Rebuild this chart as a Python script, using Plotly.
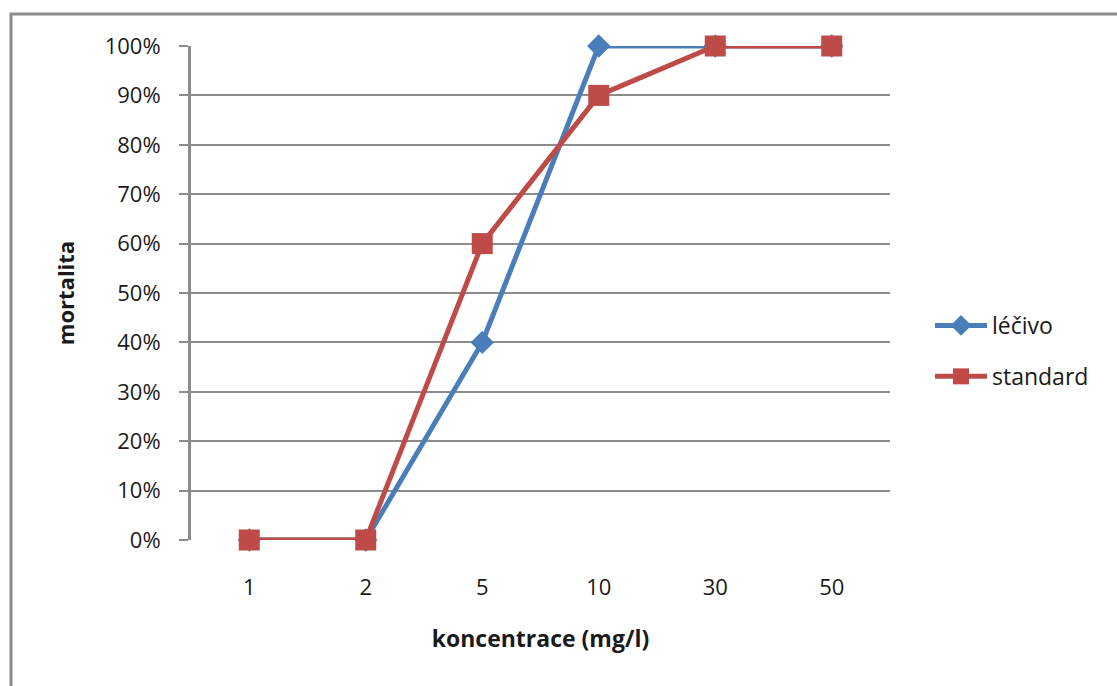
import plotly.graph_objects as go

categories = ["1", "2", "5", "10", "30", "50"]
lecivo = [0.0, 0.0, 0.4, 1.0, 1.0, 1.0]
standard = [0.0, 0.0, 0.6, 0.9, 1.0, 1.0]
y_ticks = [i / 10 for i in range(11)]
y_labels = [f"{i*10}%" for i in range(11)]

W, H = 1117, 686
L, R, T, B = 191, 227, 46, 146
FONT = "Open Sans"

fig = go.Figure()
fig.add_trace(go.Scatter(
    x=categories, y=lecivo, name="léčivo", mode="lines+markers",
    line=dict(color="#4A7EBB", width=5),
    marker=dict(symbol="diamond", size=18, color="#4A7EBB"),
    legendgroup="a", cliponaxis=False,
))
fig.add_trace(go.Scatter(
    x=categories, y=standard, name="standard", mode="lines+markers",
    line=dict(color="#BE4B48", width=5),
    marker=dict(symbol="square", size=21, color="#BE4B48"),
    legendgroup="b", cliponaxis=False,
))

pw = W - L - R
ph = H - T - B
fig.add_shape(type="rect", xref="paper", yref="paper",
              x0=(11 - L) / pw, x1=(W + 50 - L) / pw,
              y0=(H - B - (H + 50)) / ph, y1=(H - B - 14) / ph,
              line=dict(color="#8C8C8C", width=3), fillcolor="rgba(0,0,0,0)",
              layer="below")

fig.update_layout(
    width=W, height=H,
    margin=dict(l=L, r=R, t=T, b=B, pad=0),
    paper_bgcolor="white", plot_bgcolor="white",
    font=dict(family=FONT, size=22, color="#1a1a1a"),
    showlegend=True,
    legend=dict(x=(930 - L) / pw, y=(H - B - 304) / ph, xanchor="left", yanchor="top",
                font=dict(family=FONT, size=23, color="#1a1a1a"),
                tracegroupgap=18, itemwidth=52, bgcolor="rgba(0,0,0,0)"),
    xaxis=dict(
        type="category", range=[-0.5, 5.5],
        showgrid=False, zeroline=False,
        showline=False, ticks="",
        ticklabelstandoff=32,
        tickfont=dict(family=FONT, size=22),
        title=dict(text="<b>koncentrace (mg/l)</b>", font=dict(family=FONT, size=23), standoff=30),
    ),
    yaxis=dict(
        range=[0, 1], tickvals=y_ticks, ticktext=y_labels,
        showgrid=True, gridcolor="#8C8C8C", gridwidth=2,
        zeroline=False,
        showline=True, linecolor="#8C8C8C", linewidth=3,
        ticks="outside", ticklen=9, tickcolor="#8C8C8C", tickwidth=2,
        ticklabelstandoff=14,
        tickfont=dict(family=FONT, size=22),
        title=dict(text="<b>mortalita</b>", font=dict(family=FONT, size=22), standoff=24),
    ),
)

fig.write_html("out.html")
